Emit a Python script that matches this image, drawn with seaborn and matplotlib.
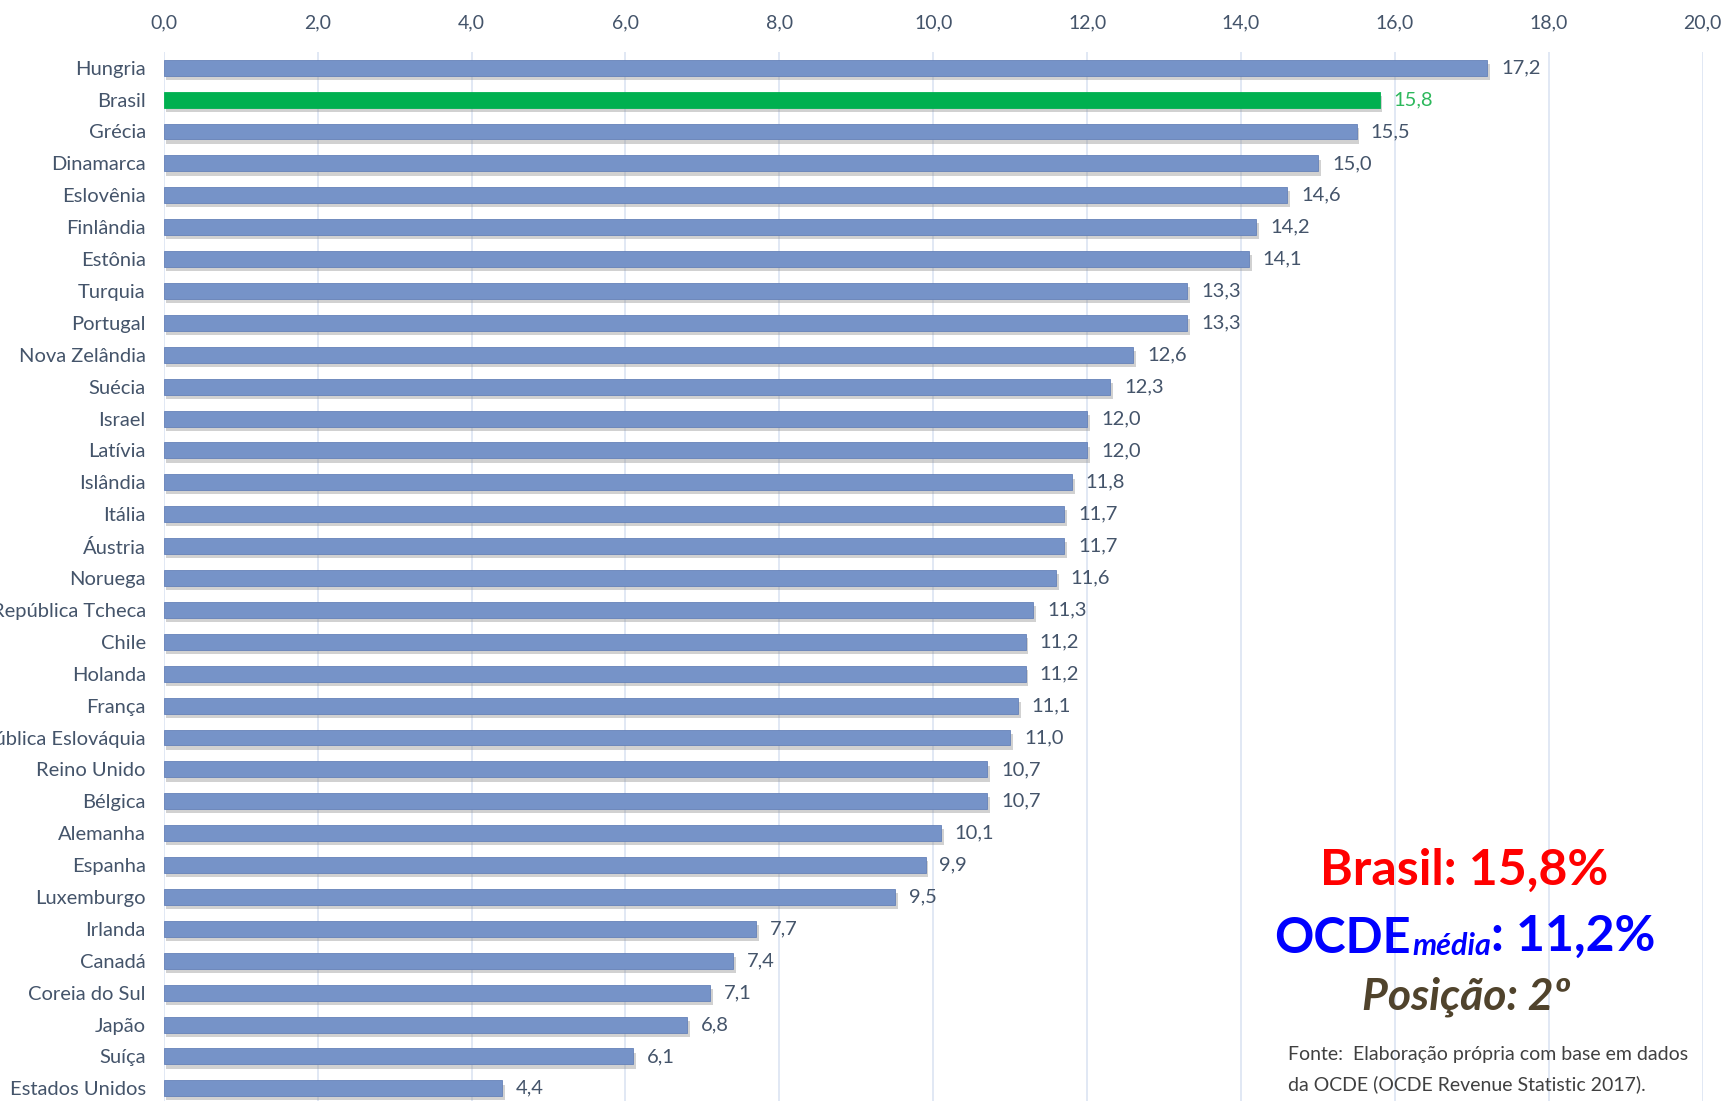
import matplotlib
matplotlib.use('Agg')
import matplotlib.pyplot as plt
import matplotlib.patheffects as pe
import seaborn as sns
import pandas as pd

countries = ['Hungria', 'Brasil', 'Grécia', 'Dinamarca', 'Eslovênia', 'Finlândia',
             'Estônia', 'Turquia', 'Portugal', 'Nova Zelândia', 'Suécia', 'Israel',
             'Latívia', 'Islândia', 'Itália', 'Áustria', 'Noruega', 'República Tcheca',
             'Chile', 'Holanda', 'França', 'República Eslováquia', 'Reino Unido',
             'Bélgica', 'Alemanha', 'Espanha', 'Luxemburgo', 'Irlanda', 'Canadá',
             'Coreia do Sul', 'Japão', 'Suíça', 'Estados Unidos']
values = [17.2, 15.8, 15.5, 15.0, 14.6, 14.2, 14.1, 13.3, 13.3, 12.6, 12.3, 12.0,
          12.0, 11.8, 11.7, 11.7, 11.6, 11.3, 11.2, 11.2, 11.1, 11.0, 10.7, 10.7,
          10.1, 9.9, 9.5, 7.7, 7.4, 7.1, 6.8, 6.1, 4.4]
x_ticks = [0, 2, 4, 6, 8, 10, 12, 14, 16, 18, 20]

highlight = 'Brasil'
bar_blue = '#7693C8'
bar_green = '#00B050'
text_blue = '#44546A'

df = pd.DataFrame({'country': countries, 'value': values})
palette = {c: (bar_green if c == highlight else bar_blue) for c in countries}

sns.set_style('white')
plt.rcParams['font.family'] = ['Lato', 'DejaVu Sans']

fig = plt.figure(figsize=(17.27, 11.01), dpi=100)
ax = fig.add_axes([0.0948, -0.003, 0.8912, 0.956])

sns.barplot(data=df, x='value', y='country', hue='country', palette=palette,
            legend=False, width=0.5, orient='h', ax=ax, saturation=1)

# thin edge + drop shadow, like the original office-style bars
for p in ax.patches:
    green = p.get_facecolor()[1] > 0.6
    p.set_edgecolor(bar_green if green else '#6682B8')
    p.set_linewidth(0.6)
    p.set_path_effects([pe.SimplePatchShadow(offset=(2, -3), shadow_rgbFace='#8C8C8C', alpha=0.4),
                        pe.Normal()])

ax.set_xlim(0, 20)
ax.set_xticks(x_ticks)
ax.set_xticklabels([f'{t:.1f}'.replace('.', ',') for t in x_ticks])
ax.xaxis.tick_top()
ax.tick_params(axis='x', length=0, pad=15, labelsize=14, labelcolor=text_blue)
ax.tick_params(axis='y', length=0, pad=13, labelsize=14.5, labelcolor=text_blue)
ax.set_xlabel('')
ax.set_ylabel('')
ax.grid(axis='x', color='#DCE4F2', linewidth=1.2)
ax.set_axisbelow(True)
for s in ax.spines.values():
    s.set_visible(False)

for i, (c, v) in enumerate(zip(countries, values)):
    col = '#2DB85C' if c == highlight else text_blue
    ax.text(v + 0.18, i, f'{v:.1f}'.replace('.', ','), va='center', ha='left',
            fontsize=14.5, color=col)

# annotations
fig.text(0.848, 0.196, 'Brasil: 15,8%', ha='center', va='baseline',
         fontsize=36, fontweight='bold', color='#FF0000')
t1 = fig.text(0.738, 0.134, 'OCDE', ha='left', va='baseline',
              fontsize=35, fontweight='bold', color='#0000FF')
t2 = ax.annotate('média', xy=(1, 0), xycoords=t1, xytext=(1, 1), textcoords='offset points',
                 ha='left', va='bottom', fontsize=22, fontweight='bold',
                 fontstyle='italic', color='#0000FF')
ax.annotate(': 11,2%', xy=(1, 0), xycoords=t2, xytext=(0, 1), textcoords='offset points',
            ha='left', va='bottom', fontsize=36, fontweight='bold', color='#0000FF')
fig.text(0.849, 0.083, 'Posição: 2º', ha='center', va='baseline',
         fontsize=32, fontweight='bold', fontstyle='italic', color='#50432C')
fig.text(0.746, 0.042, 'Fonte:  Elaboração própria com base em dados', ha='left',
         va='center', fontsize=14, color='#404040')
fig.text(0.746, 0.0155, 'da OCDE (OCDE Revenue Statistic 2017).', ha='left',
         va='center', fontsize=14, color='#404040')

fig.savefig('out.png', dpi=100)
